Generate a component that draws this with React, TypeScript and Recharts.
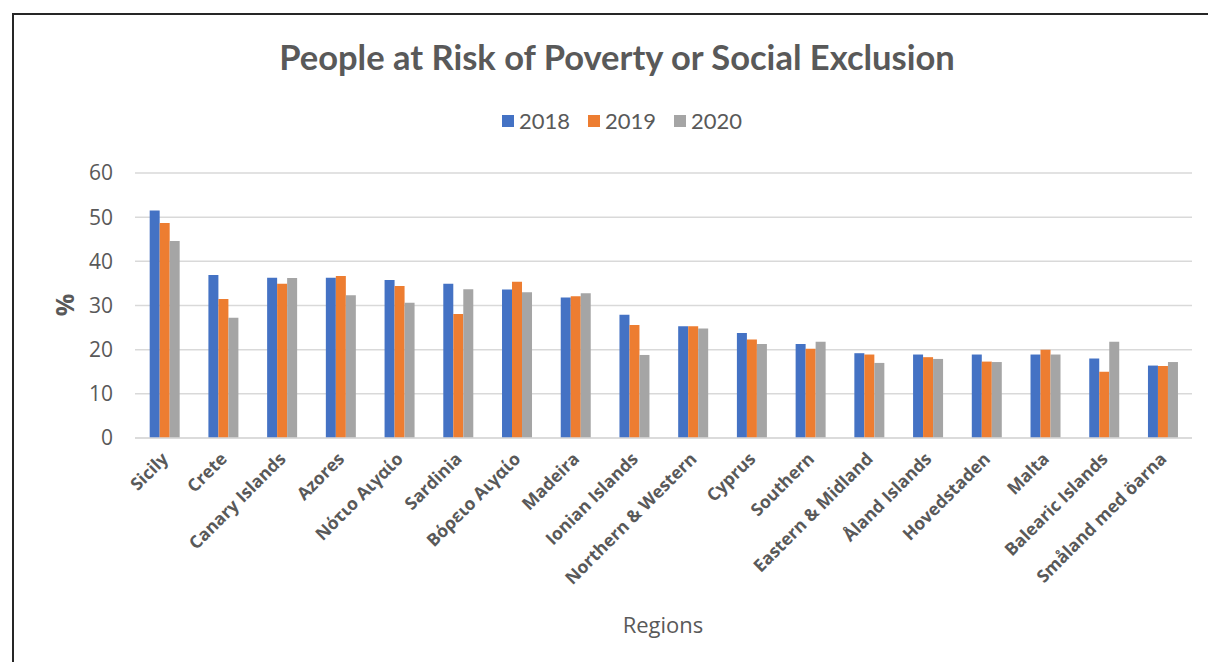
import React from 'react';
import { BarChart, Bar, XAxis, YAxis, CartesianGrid } from 'recharts';

const regions = [
  'Sicily', 'Crete', 'Canary Islands', 'Azores', 'Νότιο Αιγαίο', 'Sardinia',
  'Βόρειο Αιγαίο', 'Madeira', 'Ionian Islands', 'Northern & Western', 'Cyprus',
  'Southern', 'Eastern & Midland', 'Åland Islands', 'Hovedstaden', 'Malta',
  'Balearic Islands', 'Småland med öarna',
];

const values2018 = [51.5, 36.9, 36.3, 36.3, 35.8, 34.9, 33.6, 31.8, 27.9, 25.3, 23.8, 21.3, 19.2, 18.9, 18.9, 18.9, 18.0, 16.4];
const values2019 = [48.7, 31.5, 34.9, 36.7, 34.4, 28.1, 35.4, 32.1, 25.6, 25.3, 22.3, 20.2, 18.9, 18.3, 17.3, 20.0, 15.0, 16.3];
const values2020 = [44.6, 27.2, 36.2, 32.3, 30.6, 33.7, 33.0, 32.8, 18.8, 24.8, 21.3, 21.8, 17.0, 17.9, 17.2, 18.9, 21.8, 17.2];

const yTicks = [0, 10, 20, 30, 40, 50, 60];

const series = [
  { key: 'y2018', name: '2018', color: '#4472C4' },
  { key: 'y2019', name: '2019', color: '#ED7D31' },
  { key: 'y2020', name: '2020', color: '#A5A5A5' },
];

const data = regions.map((region, i) => ({
  region,
  y2018: values2018[i],
  y2019: values2019[i],
  y2020: values2020[i],
}));

const TEXT = '#595959';

const RegionTick = (props: any) => {
  const { x, y, payload } = props;
  const ax = x + 5;
  const ay = y + 14;
  return (
    <text
      x={ax}
      y={ay}
      textAnchor="end"
      transform={`rotate(-45, ${ax}, ${ay})`}
      fill={TEXT}
      fontSize={17.5}
      fontWeight={700}
      fontFamily="'Open Sans', sans-serif"
    >
      {payload.value}
    </text>
  );
};

export default function App() {
  return (
    <div style={{ position: 'absolute', left: 0, top: 0, width: 1208, height: 662, overflow: 'hidden', background: '#fff' }}>
      <div
        style={{
          position: 'absolute', left: 12, top: 13, width: 1220, height: 700,
          borderLeft: '2px solid #262626', borderTop: '2px solid #262626',
        }}
      />
      <div
        style={{
          position: 'absolute', left: 0, width: 1234, top: 36, textAlign: 'center',
          fontFamily: 'Lato, sans-serif', fontWeight: 700, fontSize: 34.5, color: TEXT,
        }}
      >
        People at Risk of Poverty or Social Exclusion
      </div>
      <div
        style={{
          position: 'absolute', left: 502, top: 107, display: 'flex', alignItems: 'center',
          fontFamily: 'Lato, sans-serif', fontSize: 22, color: TEXT,
        }}
      >
        {series.map((s) => (
          <div key={s.key} style={{ display: 'flex', alignItems: 'center', marginRight: 18 }}>
            <span style={{ width: 12, height: 12, background: s.color, display: 'inline-block', marginRight: 5 }} />
            <span>{s.name}</span>
          </div>
        ))}
      </div>
      <div
        style={{
          position: 'absolute', left: 48, top: 288, width: 32, textAlign: 'center',
          transform: 'rotate(-90deg)', fontFamily: "'Open Sans', sans-serif",
          fontWeight: 700, fontSize: 25, color: TEXT,
        }}
      >
        %
      </div>
      <div
        style={{
          position: 'absolute', left: 563, width: 200, top: 609, textAlign: 'center',
          fontFamily: "'Open Sans', sans-serif", fontSize: 22, color: TEXT,
        }}
      >
        Regions
      </div>
      <div style={{ position: 'absolute', left: 0, top: 0 }}>
        <BarChart
          width={1208}
          height={662}
          data={data}
          margin={{ top: 173, right: 16, bottom: 204, left: 75 }}
          barCategoryGap="25%"
          barGap={0}
        >
          <CartesianGrid vertical={false} stroke="#d9d9d9" strokeWidth={1.5} />
          <XAxis
            dataKey="region"
            interval={0}
            axisLine={{ stroke: '#d9d9d9', strokeWidth: 1.5 }}
            tickLine={false}
            tick={<RegionTick />}
            height={20}
          />
          <YAxis
            width={60}
            domain={[0, 60]}
            ticks={yTicks}
            axisLine={false}
            tickLine={false}
            tickSize={0}
            tickMargin={22}
            tick={{ fill: TEXT, fontSize: 21, fontFamily: "'Open Sans', sans-serif" }}
          />
          {series.map((s) => (
            <Bar key={s.key} dataKey={s.key} name={s.name} fill={s.color} isAnimationActive={false} />
          ))}
        </BarChart>
      </div>
    </div>
  );
}
